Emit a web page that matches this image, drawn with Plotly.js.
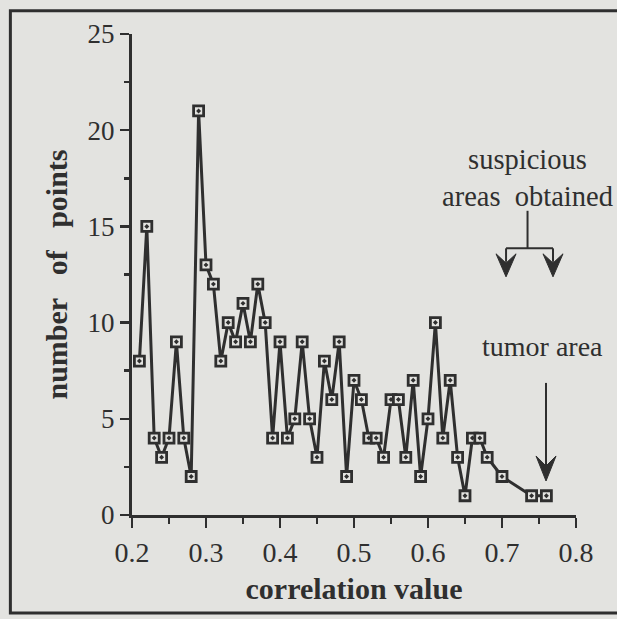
<!DOCTYPE html>
<html>
<head>
<meta charset="utf-8">
<script src="https://cdn.plot.ly/plotly-3.0.1.min.js"></script>
<style>
html,body{margin:0;padding:0;background:#e3e3e0;}
#chart{width:617px;height:619px;}
</style>
</head>
<body>
<div id="chart"></div>
<script>
// ---- data ----
const correlation = [0.21,0.22,0.23,0.24,0.25,0.26,0.27,0.28,0.29,0.30,
  0.31,0.32,0.33,0.34,0.35,0.36,0.37,0.38,0.39,0.40,
  0.41,0.42,0.43,0.44,0.45,0.46,0.47,0.48,0.49,0.50,
  0.51,0.52,0.53,0.54,0.55,0.56,0.57,0.58,0.59,0.60,
  0.61,0.62,0.63,0.64,0.65,0.66,0.67,0.68,0.70,0.74,0.76];
const numPoints = [8,15,4,3,4,9,4,2,21,13,
  12,8,10,9,11,9,12,10,4,9,
  4,5,9,5,3,8,6,9,2,7,
  6,4,4,3,6,6,3,7,2,5,
  10,4,7,3,1,4,4,3,2,1,1];
const xTickVals = [0.2,0.3,0.4,0.5,0.6,0.7,0.8];
const xTickText = ["0.2","0.3","0.4","0.5","0.6","0.7","0.8"];
const yTickVals = [0,5,10,15,20,25];
const yTickText = ["0","5","10","15","20","25"];
const xTitle = "correlation value";
const yTitle = "number\u00A0\u00A0 of\u00A0\u00A0 points";
const noteSuspicious = "suspicious<br>areas\u00A0\u00A0obtained";
const noteTumor = "tumor area";

// ---- layout geometry (pixels) ----
const W = 617, H = 619;
const L = 131.7, R = 576, T = 34.3, B = 515;
const px = v => (v - L) / (R - L);
const py = v => (B - v) / (B - T);
const ink = '#2f2f2f';
const bg = '#e3e3e0';
const serif = '"Liberation Serif", "Times New Roman", serif';

function arrowHead(xTip, yTip, w, h) {
  // barbed arrowhead pointing down, tip at (xTip, yTip), in pixels
  const pts = [
    [xTip, yTip],
    [xTip - w/2, yTip - h],
    [xTip, yTip - h*0.6],
    [xTip + w/2, yTip - h]
  ];
  return 'M ' + pts.map(p => px(p[0]).toFixed(4) + ' ' + py(p[1]).toFixed(4)).join(' L ') + ' Z';
}

const shapes = [
  // figure frame
  {type:'rect', xref:'paper', yref:'paper', x0:px(10), x1:px(640), y0:py(11), y1:py(613),
   line:{color:ink, width:3}, fillcolor:'rgba(0,0,0,0)', layer:'below'},
  // suspicious areas bracket
  {type:'line', xref:'paper', yref:'paper', x0:px(527.5), x1:px(527.5), y0:py(211), y1:py(248.5), line:{color:ink, width:2}},
  {type:'line', xref:'paper', yref:'paper', x0:px(506), x1:px(553), y0:py(248.5), y1:py(248.5), line:{color:ink, width:2}},
  {type:'line', xref:'paper', yref:'paper', x0:px(506), x1:px(506), y0:py(248.5), y1:py(262), line:{color:ink, width:2}},
  {type:'line', xref:'paper', yref:'paper', x0:px(553), x1:px(553), y0:py(248.5), y1:py(262), line:{color:ink, width:2}},
  {type:'path', xref:'paper', yref:'paper', path:arrowHead(506, 277, 20, 23), fillcolor:ink, line:{color:ink, width:1}},
  {type:'path', xref:'paper', yref:'paper', path:arrowHead(553, 277, 20, 23), fillcolor:ink, line:{color:ink, width:1}},
  // tumor arrow
  {type:'line', xref:'paper', yref:'paper', x0:px(546), x1:px(546), y0:py(383), y1:py(468), line:{color:ink, width:2}},
  {type:'path', xref:'paper', yref:'paper', path:arrowHead(546, 481, 20, 25), fillcolor:ink, line:{color:ink, width:1}}
];

const annotations = [
  {xref:'paper', yref:'paper', x:px(527), y:py(178), text:noteSuspicious, showarrow:false,
   font:{family:serif, size:28.5, color:ink}, xanchor:'center', yanchor:'middle', align:'center'},
  {xref:'paper', yref:'paper', x:px(542), y:py(347), text:noteTumor, showarrow:false,
   font:{family:serif, size:28, color:ink}, xanchor:'center', yanchor:'middle'}
];

const trace = {
  x: correlation, y: numPoints, type:'scatter', mode:'lines+markers',
  line:{color:ink, width:3},
  marker:{symbol:'square-dot', size:10, color:bg, line:{color:ink, width:2.8}},
  hoverinfo:'x+y', showlegend:false
};

const layout = {
  width:W, height:H,
  paper_bgcolor:bg, plot_bgcolor:bg,
  margin:{l:L, r:W-R, t:T, b:H-B, pad:0},
  xaxis:{range:[0.2,0.8], tickvals:xTickVals, ticktext:xTickText, showgrid:false, zeroline:false,
    showline:true, linecolor:ink, linewidth:3, ticks:'outside', ticklen:10, tickwidth:2.5, tickcolor:ink,
    minor:{tickvals:[0.25,0.35,0.45,0.55,0.65,0.75], ticks:'outside', ticklen:6, tickwidth:2.5, tickcolor:ink},
    tickfont:{family:serif, size:28, color:ink},
    title:{text:xTitle, font:{family:serif, size:30, color:ink, weight:'bold'}, standoff:12}},
  yaxis:{range:[0,25], tickvals:yTickVals, ticktext:yTickText, showgrid:false, zeroline:false,
    showline:true, linecolor:ink, linewidth:3, ticks:'outside', ticklen:9, tickwidth:2.5, tickcolor:ink,
    minor:{tickvals:[2.5,7.5,12.5,17.5,22.5], ticks:'outside', ticklen:5, tickwidth:2.5, tickcolor:ink},
    tickfont:{family:serif, size:27, color:ink},
    title:{text:yTitle, font:{family:serif, size:30, color:ink, weight:'bold'}, standoff:12}},
  shapes:shapes, annotations:annotations
};

Plotly.newPlot('chart', [trace], layout, {displayModeBar:false, staticPlot:true});
</script>
</body>
</html>
